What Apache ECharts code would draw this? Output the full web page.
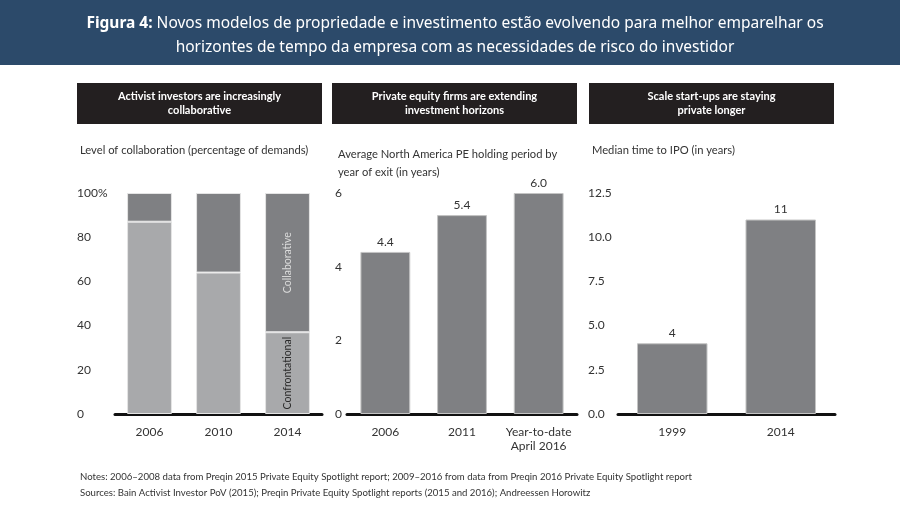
<!DOCTYPE html>
<html>
<head>
<meta charset="utf-8">
<script src="https://cdn.jsdelivr.net/npm/echarts@6/dist/echarts.min.js"></script>
<style>
  html, body { margin: 0; padding: 0; background: #fff; }
  #chart { width: 900px; height: 520px; }
</style>
</head>
<body>
<div id="chart"></div>
<script>
// Figure 4 — three small bar panels
// ---------------------------------

// panel a) activist investors
const activistYears = ['2006', '2010', '2014']
const confrontational = [87, 64, 37]
const collaborative = [13, 36, 63]

// panel b) PE holding period
const peCats = ['2006', '2011', 'Year-to-date\nApril 2016']
const peHolding = [4.4, 5.4, 6.0]

// panel c) time to IPO
const ipoYears = ['1999', '2014']
const ipoMedian = [4, 11]

const FONT = 'Lato'
const darkBar = '#7f8083'
const lightBar = '#a8a9ab'

function baseX(idx, cats) {
  return {
    type: 'category',
    gridIndex: idx,
    data: cats,
    axisTick: { show: false },
    axisLine: { lineStyle: { color: '#111', width: 3 } },
    axisLabel: {
      interval: 0, color: '#333', fontFamily: FONT, fontSize: 12,
      margin: 11, lineHeight: 14, align: 'center',
    },
  }
}

function baseY(idx, max, interval, margin, fmt) {
  return {
    type: 'value',
    gridIndex: idx,
    min: 0,
    max: max,
    interval: interval,
    splitLine: { show: false },
    axisLine: { show: false },
    axisTick: { show: false },
    axisLabel: {
      color: '#333', fontFamily: FONT, fontSize: 12,
      align: 'left', margin: margin, formatter: fmt,
    },
  }
}

// header box for each panel
function header(x, text) {
  return {
    type: 'group',
    children: [
      { type: 'rect', shape: { x: x, y: 83, width: 245, height: 41 }, style: { fill: '#231f20' } },
      {
        type: 'text', x: x + 122.5, y: 103.5,
        style: {
          text: text, fill: '#fff', align: 'center', verticalAlign: 'middle',
          font: 'bold 11px ' + FONT, lineHeight: 14,
        },
      },
    ],
  }
}

const option = {
  animation: false,
  backgroundColor: '#fff',
  graphic: [
    { type: 'rect', shape: { x: 0, y: 0, width: 900, height: 65 }, style: { fill: '#2c4a6a' }, z: -1 },
    header(77, 'Activist investors are increasingly\ncollaborative'),
    header(332, 'Private equity firms are extending\ninvestment horizons'),
    header(589, 'Scale start-ups are staying\nprivate longer'),
  ],
  title: [{
    text: '{b|Figura 4:} Novos modelos de propriedade e investimento estão evolvendo para melhor emparelhar os\nhorizontes de tempo da empresa com as necessidades de risco do investidor',
    left: 450, top: 7, textAlign: 'center',
    textStyle: {
      color: '#fff', fontFamily: 'Noto Sans', fontSize: 15.5, fontWeight: 'normal', lineHeight: 24,
      rich: { b: { fontFamily: 'Noto Sans', fontSize: 15.5, fontWeight: 'bold', color: '#fff' } },
    },
  }, {
    text: 'Level of collaboration (percentage of demands)',
    left: 75, top: 140,
    textStyle: { color: '#333', fontFamily: FONT, fontSize: 11.2, fontWeight: 'normal' },
  }, {
    text: 'Average North America PE holding period by\nyear of exit (in years)',
    left: 333, top: 140,
    textStyle: { color: '#333', fontFamily: FONT, fontSize: 11.2, fontWeight: 'normal', lineHeight: 18 },
  }, {
    text: 'Median time to IPO (in years)',
    left: 587, top: 140,
    textStyle: { color: '#333', fontFamily: FONT, fontSize: 11.2, fontWeight: 'normal' },
  }, {
    text: 'Notes: 2006–2008 data from Preqin 2015 Private Equity Spotlight report; 2009–2016 from data from Preqin 2016 Private Equity Spotlight report\nSources: Bain Activist Investor PoV (2015); Preqin Private Equity Spotlight reports (2015 and 2016); Andreessen Horowitz',
    left: 75, top: 464,
    textStyle: { color: '#333', fontFamily: FONT, fontSize: 9.6, fontWeight: 'normal', lineHeight: 16 },
  }],
  grid: [
    { left: 115, right: 578, top: 193, bottom: 106 },
    { left: 347, right: 323, top: 193, bottom: 106 },
    { left: 618, right: 65, top: 193, bottom: 106 },
  ],
  xAxis: [
    baseX(0, activistYears),
    baseX(1, peCats),
    baseX(2, ipoYears),
  ],
  yAxis: [
    baseY(0, 100, 20, 38, v => v === 100 ? '100%' : `${v}`),
    baseY(1, 6, 2, 12, v => `${v}`),
    baseY(2, 12.5, 2.5, 30, v => v.toFixed(1)),
  ],
  series: [{
    type: 'bar', name: 'Confrontational', stack: 'a', xAxisIndex: 0, yAxisIndex: 0,
    barWidth: '65%',
    itemStyle: { color: lightBar, borderColor: '#e4e4e4', borderWidth: 1 },
    data: confrontational.map((v, i) => ({
      value: v,
      label: {
        show: i === activistYears.length - 1,
        formatter: 'Confrontational', position: 'inside', rotate: 90,
        color: '#2a2a2a', fontFamily: FONT, fontSize: 10.5,
      },
    })),
  }, {
    type: 'bar', name: 'Collaborative', stack: 'a', xAxisIndex: 0, yAxisIndex: 0,
    barWidth: '65%',
    itemStyle: { color: darkBar, borderColor: '#e4e4e4', borderWidth: 1 },
    data: collaborative.map((v, i) => ({
      value: v,
      label: {
        show: i === activistYears.length - 1,
        formatter: 'Collaborative', position: 'inside', rotate: 90,
        color: '#dcdcdc', fontFamily: FONT, fontSize: 10.5,
      },
    })),
  }, {
    type: 'bar', xAxisIndex: 1, yAxisIndex: 1,
    barWidth: '65%',
    itemStyle: { color: darkBar, borderColor: '#c4c4c4', borderWidth: 1 },
    label: {
      show: true, position: 'top', distance: 4,
      color: '#333', fontFamily: FONT, fontSize: 12,
      formatter: p => p.value.toFixed(1),
    },
    data: peHolding,
  }, {
    type: 'bar', xAxisIndex: 2, yAxisIndex: 2,
    barWidth: '65%',
    itemStyle: { color: darkBar, borderColor: '#c4c4c4', borderWidth: 1 },
    label: {
      show: true, position: 'top', distance: 4,
      color: '#333', fontFamily: FONT, fontSize: 12,
    },
    data: ipoMedian,
  }],
}

const chart = echarts.init(document.getElementById('chart'))
chart.setOption(option)
</script>
</body>
</html>
